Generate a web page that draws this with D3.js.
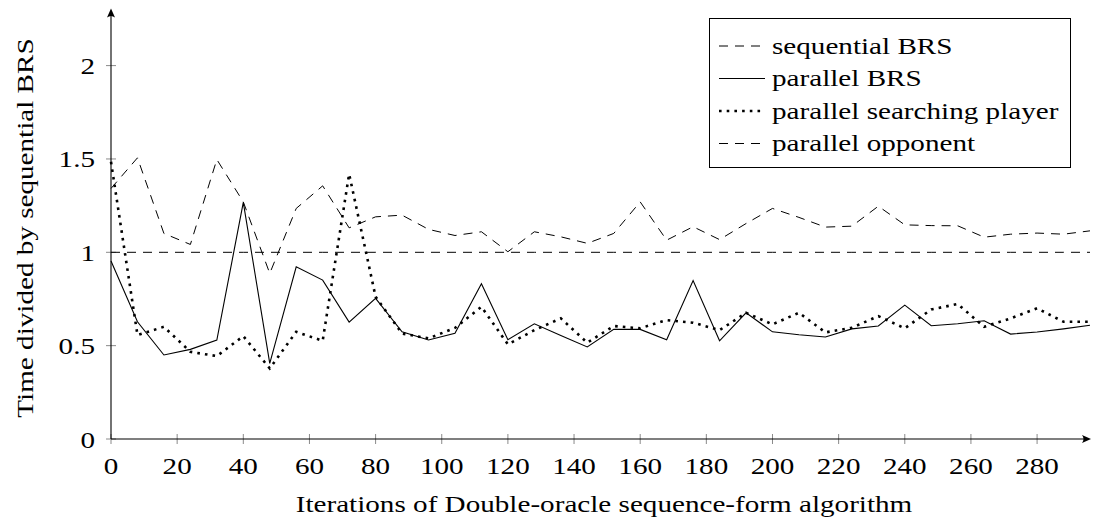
<!DOCTYPE html>
<html>
<head>
<meta charset="utf-8">
<script src="https://cdn.jsdelivr.net/npm/d3@7"></script>
<style>
  html, body { margin: 0; padding: 0; background: #fff; }
  svg { display: block; }
  svg text { font-family: "Liberation Serif", "DejaVu Serif", serif; }
</style>
</head>
<body>
<svg id="chart" width="1093" height="524"></svg>
<script>
// ---- data ----
const iterations = [0, 8, 16, 24, 32, 40, 48, 56, 64, 72, 80, 88, 96, 104, 112, 120, 128, 136, 144, 152,
  160, 168, 176, 184, 192, 200, 208, 216, 224, 232, 240, 248, 256, 264, 272, 280, 288, 296];
const sequentialBRS = [1, 1, 1, 1, 1, 1, 1, 1, 1, 1, 1, 1, 1, 1, 1, 1, 1, 1, 1, 1,
  1, 1, 1, 1, 1, 1, 1, 1, 1, 1, 1, 1, 1, 1, 1, 1, 1, 1];
const parallelBRS = [0.953, 0.628, 0.45, 0.48, 0.53, 1.267, 0.405, 0.922, 0.851, 0.626,
  0.753, 0.574, 0.53, 0.566, 0.832, 0.532, 0.617, 0.555, 0.493, 0.587,
  0.587, 0.532, 0.849, 0.526, 0.676, 0.574, 0.558, 0.546, 0.59, 0.605,
  0.717, 0.607, 0.617, 0.633, 0.562, 0.573, 0.59, 0.609];
const parallelSearching = [1.485, 0.557, 0.601, 0.467, 0.444, 0.551, 0.378, 0.574, 0.526, 1.419,
  0.762, 0.565, 0.539, 0.595, 0.708, 0.507, 0.583, 0.646, 0.516, 0.605,
  0.593, 0.637, 0.623, 0.583, 0.676, 0.614, 0.676, 0.571, 0.596, 0.658,
  0.593, 0.694, 0.723, 0.601, 0.646, 0.7, 0.628, 0.628];
const parallelOpponent = [1.342, 1.506, 1.101, 1.042, 1.497, 1.27, 0.887, 1.235, 1.356, 1.131,
  1.19, 1.199, 1.123, 1.09, 1.11, 1.003, 1.11, 1.083, 1.048, 1.101,
  1.27, 1.065, 1.137, 1.068, 1.154, 1.235, 1.187, 1.135, 1.14, 1.247,
  1.147, 1.143, 1.142, 1.081, 1.097, 1.103, 1.097, 1.115];
const xTicks = [0, 20, 40, 60, 80, 100, 120, 140, 160, 180, 200, 220, 240, 260, 280];
const yTicks = [0, 0.5, 1, 1.5, 2];
const seriesNames = ["sequential BRS", "parallel BRS", "parallel searching player", "parallel opponent"];
const xLabel = "Iterations of Double-oracle sequence-form algorithm";
const yLabel = "Time divided by sequential BRS";

// ---- layout ----
const FONT = "Liberation Serif";
const FS = 23.5;
const SX = 1.24; // stretch of text along its reading direction
const svg = d3.select("#chart");
const x = d3.scaleLinear().domain([0, 296]).range([111, 1090]);
const y = d3.scaleLinear().domain([0, 2.3]).range([439, 9.6]);

function txt(px, py, s, anchor, rot) {
  return svg.append("text")
    .attr("transform", `translate(${px},${py}) rotate(${rot || 0}) scale(${SX},1)`)
    .attr("text-anchor", anchor)
    .style("font-family", FONT)
    .style("font-size", FS + "px")
    .attr("fill", "#000")
    .text(s);
}

const styles = [
  { dash: "9,7", width: 1 },
  { dash: null, width: 1.1 },
  { dash: "2.6,5.1", width: 2.6 },
  { dash: "9,7", width: 1 }
];
const seriesData = [sequentialBRS, parallelBRS, parallelSearching, parallelOpponent];

// ---- ticks ----
const tickColor = "#8a8a8a";
svg.append("g").selectAll("line").data(xTicks).join("line")
  .attr("x1", d => x(d)).attr("x2", d => x(d))
  .attr("y1", y(0) - 5).attr("y2", y(0) + 5)
  .attr("stroke", tickColor).attr("stroke-width", 1);
svg.append("g").selectAll("line").data(yTicks).join("line")
  .attr("y1", d => y(d)).attr("y2", d => y(d))
  .attr("x1", x(0) - 5).attr("x2", x(0) + 5)
  .attr("stroke", tickColor).attr("stroke-width", 1);

xTicks.forEach(t => txt(x(t), 474, String(t), "middle"));
yTicks.forEach(t => txt(95, y(t) + 8.5, String(t), "end"));

// ---- lines ----
const line = d3.line().x((d, i) => x(iterations[i])).y(d => y(d));
seriesData.forEach((vals, k) => {
  const st = styles[k];
  svg.append("path")
    .datum(vals)
    .attr("d", line)
    .attr("fill", "none")
    .attr("stroke", "#000")
    .attr("stroke-width", st.width)
    .attr("stroke-linecap", "butt")
    .attr("stroke-linejoin", "miter")
    .attr("stroke-dasharray", st.dash);
});

// ---- axes with arrows ----
const x0 = x(0), y0 = y(0), xEnd = x(296), yEnd = y(2.3);
svg.append("line").attr("x1", x0).attr("x2", xEnd - 3).attr("y1", y0).attr("y2", y0)
  .attr("stroke", "#000").attr("stroke-width", 1.1);
svg.append("line").attr("x1", x0).attr("x2", x0).attr("y1", y0).attr("y2", yEnd + 3)
  .attr("stroke", "#000").attr("stroke-width", 1.1);
svg.append("path")
  .attr("d", `M${xEnd + 1},${y0} L${xEnd - 8},${y0 - 4} Q${xEnd - 5},${y0} ${xEnd - 8},${y0 + 4} Z`)
  .attr("fill", "#000");
svg.append("path")
  .attr("d", `M${x0},${yEnd - 1} L${x0 - 4},${yEnd + 8} Q${x0},${yEnd + 5} ${x0 + 4},${yEnd + 8} Z`)
  .attr("fill", "#000");

// ---- axis labels ----
txt(604, 512, xLabel, "middle");
txt(33, 228, yLabel, "middle", -90);

// ---- legend ----
const lg = svg.append("g");
lg.append("rect").attr("x", 709.5).attr("y", 18.5).attr("width", 361).attr("height", 149)
  .attr("fill", "#fff").attr("stroke", "#000").attr("stroke-width", 1);
seriesNames.forEach((name, i) => {
  const cy = 46 + 32.5 * i;
  const st = styles[i];
  lg.append("line")
    .attr("x1", 719).attr("x2", 765).attr("y1", cy).attr("y2", cy)
    .attr("stroke", "#000").attr("stroke-width", st.width)
    .attr("stroke-dasharray", st.dash);
  txt(772, cy + 7.5, name, "start");
});
</script>
</body>
</html>
